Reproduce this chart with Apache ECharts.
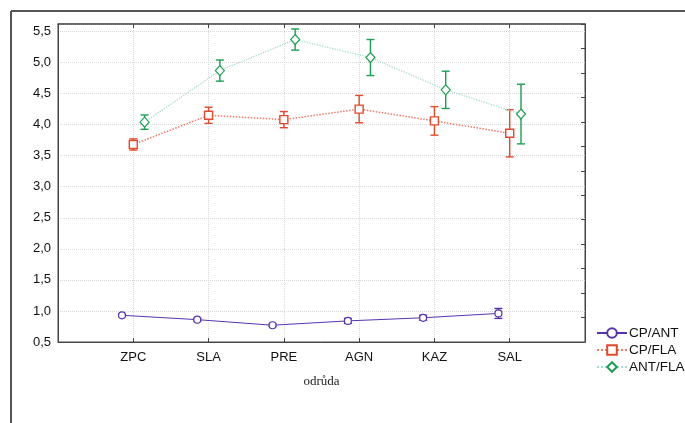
<!DOCTYPE html>
<html><head><meta charset="utf-8">
<script src="https://cdn.jsdelivr.net/npm/echarts@6/dist/echarts.min.js"></script>
<style>html,body{margin:0;padding:0;background:#fff}#c{width:685px;height:423px}</style>
</head><body><div id="c"></div>
<script>
var categories = ['ZPC','SLA','PRE','AGN','KAZ','SAL'];
var seriesNames = ['CP/ANT','CP/FLA','ANT/FLA'];
var cpAnt = [0.93,0.86,0.77,0.84,0.89,0.96];
var cpAntErr = [0.015,0.02,0.02,0.04,0.04,0.08];
var cpFla = [3.68,4.15,4.08,4.25,4.06,3.86];
var cpFlaErr = [0.09,0.13,0.13,0.22,0.23,0.38];
var antFla = [4.04,4.87,5.37,5.08,4.56,4.17];
var antFlaErr = [0.115,0.17,0.17,0.29,0.30,0.48];
var yTicks = ['0,5','1,0','1,5','2,0','2,5','3,0','3,5','4,0','4,5','5,0','5,5'];

var offsets = [-0.15, 0, 0.15];
var colors = ['#5533b0','#e5482a','#18a050'];
var lineColors = ['#5533b0','#f07a66','#a6dccf'];

function pts(vals, k){ return vals.map(function(v,i){ return [i+1+offsets[k], v]; }); }
function errs(vals, e, k){ return vals.map(function(v,i){ return [i+1+offsets[k], v-e[i], v+e[i]]; }); }

function errSeries(data, color){
  return {
    type:'custom', z:2, silent:true,
    data:data,
    renderItem:function(params, api){
      var x = api.value(0), lo = api.value(1), hi = api.value(2);
      var p1 = api.coord([x, lo]), p2 = api.coord([x, hi]);
      var w = 4;
      var st = {stroke:color, lineWidth:1.4};
      return {type:'group', children:[
        {type:'line', shape:{x1:p1[0],y1:p1[1],x2:p2[0],y2:p2[1]}, style:st},
        {type:'line', shape:{x1:p1[0]-w,y1:p1[1],x2:p1[0]+w,y2:p1[1]}, style:st},
        {type:'line', shape:{x1:p2[0]-w,y1:p2[1],x2:p2[0]+w,y2:p2[1]}, style:st}
      ]};
    }
  };
}

var chart = echarts.init(document.getElementById('c'));
var font = 'Liberation Sans, Arial, sans-serif';
chart.setOption({
  animation:false,
  graphic:[
    {type:'line', shape:{x1:11,y1:11,x2:685,y2:11}, style:{stroke:'#555',lineWidth:2}},
    {type:'line', shape:{x1:11,y1:11,x2:11,y2:423}, style:{stroke:'#555',lineWidth:2}}
  ],
  grid:{left:58, right:100, top:24, bottom:81, show:true, borderColor:'#444', borderWidth:1},
  legend:{
    orient:'vertical', left:591, top:321, itemGap:3, itemWidth:30, itemHeight:12,
    textStyle:{fontFamily:font, fontSize:13.5, color:'#111', padding:[0,0,0,-3]},
    data:seriesNames
  },
  xAxis:[{
    type:'value', min:0, max:7, interval:1,
    name:'odrůda', nameLocation:'middle', nameGap:33,
    nameTextStyle:{fontFamily:'Liberation Serif, DejaVu Serif, serif', fontSize:13, color:'#222'},
    axisLine:{onZero:false, lineStyle:{color:'#444'}},
    axisTick:{inside:true, length:4, lineStyle:{color:'#444'}},
    axisLabel:{fontFamily:font, fontSize:13, color:'#111', margin:9,
      formatter:function(v){ return categories[v-1] || ''; }},
    splitLine:{show:true, lineStyle:{color:'#d8d8d8', type:'dotted'}}
  },{
    type:'value', position:'top', min:0, max:7, interval:1,
    axisLine:{onZero:false, lineStyle:{color:'#555', width:1.5}},
    axisTick:{inside:true, length:4, lineStyle:{color:'#444'}},
    axisLabel:{show:false}, splitLine:{show:false}
  }],
  yAxis:[{
    type:'value', position:'left', min:0.5, max:5.62, interval:0.5,
    axisLine:{show:true, onZero:false, lineStyle:{color:'#444'}},
    axisTick:{show:false},
    axisLabel:{fontFamily:font, fontSize:13, color:'#111', margin:7, showMaxLabel:false,
      formatter:function(v){ var i = Math.round((v-0.5)/0.5); return (Math.abs(v-(0.5+i*0.5))<1e-6 && yTicks[i]) ? yTicks[i] : ''; }},
    splitLine:{show:true, lineStyle:{color:'#d8d8d8', type:'dotted'}}
  },{
    type:'value', position:'right', min:0, max:13, interval:1,
    axisLine:{show:true, onZero:false, lineStyle:{color:'#444'}},
    axisTick:{inside:true, length:4, lineStyle:{color:'#444'}},
    axisLabel:{show:false}, splitLine:{show:false}
  }],
  series:[
    errSeries(errs(cpAnt, cpAntErr, 0), colors[0]),
    errSeries(errs(cpFla, cpFlaErr, 1), colors[1]),
    errSeries(errs(antFla, antFlaErr, 2), colors[2]),
    {name:seriesNames[0], type:'line', z:3, data:pts(cpAnt,0), symbol:'circle', symbolSize:7,
      lineStyle:{color:lineColors[0], width:1}, itemStyle:{color:'#fff', borderColor:colors[0], borderWidth:1.2}},
    {name:seriesNames[1], type:'line', z:3, data:pts(cpFla,1), symbol:'rect', symbolSize:8,
      lineStyle:{color:lineColors[1], width:1.5, type:'dotted'}, itemStyle:{color:'#fff', borderColor:colors[1], borderWidth:1.4}},
    {name:seriesNames[2], type:'line', z:3, data:pts(antFla,2), symbol:'diamond', symbolSize:[9,10],
      lineStyle:{color:lineColors[2], width:1.3, type:'dotted'}, itemStyle:{color:'#fff', borderColor:colors[2], borderWidth:1.2}}
  ]
});
</script></body></html>
